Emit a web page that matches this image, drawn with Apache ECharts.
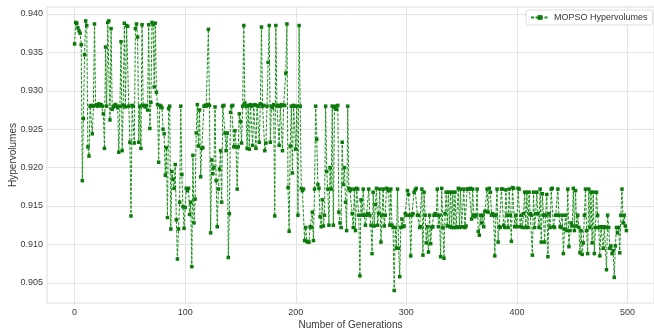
<!DOCTYPE html>
<html>
<head>
<meta charset="utf-8">
<script src="https://cdn.jsdelivr.net/npm/echarts@6/dist/echarts.min.js"></script>
<style>
  html, body { margin: 0; padding: 0; background: #ffffff; }
  #chart { width: 654px; height: 332px; }
</style>
</head>
<body>
<div id="chart"></div>
<script>
// MOPSO hypervolume per generation, generations 0..499 in blocks of 100
const hvGen000 = [
  0.9361, 0.9389, 0.9388, 0.9382, 0.9378, 0.9375, 0.9360, 0.9183, 0.9264, 0.9347,
  0.9391, 0.9385, 0.9227, 0.9215, 0.9280, 0.9281, 0.9244, 0.9280, 0.9387, 0.9281,
  0.9282, 0.9280, 0.9283, 0.9281, 0.9282, 0.9280, 0.9270, 0.9225, 0.9357, 0.9280,
  0.9389, 0.9391, 0.9262, 0.9381, 0.9276, 0.9279, 0.9281, 0.9282, 0.9280, 0.9278,
  0.9220, 0.9280, 0.9364, 0.9222, 0.9281, 0.9388, 0.9279, 0.9385, 0.9384, 0.9280,
  0.9233, 0.9137, 0.9281, 0.9280, 0.9232, 0.9381, 0.9387, 0.9370, 0.9233, 0.9280,
  0.9225, 0.9386, 0.9281, 0.9280, 0.9279, 0.9281, 0.9275, 0.9386, 0.9251, 0.9285,
  0.9389, 0.9386, 0.9305, 0.9388, 0.9298, 0.9282, 0.9207, 0.9281, 0.9280, 0.9278,
  0.9250, 0.9244, 0.9190, 0.9226, 0.9135, 0.9277, 0.9280, 0.9120, 0.9195, 0.9185,
  0.9173, 0.9204, 0.9132, 0.9081, 0.9120, 0.9155, 0.9280, 0.9191, 0.9149, 0.9121
];
const hvGen100 = [
  0.9148, 0.9173, 0.9170, 0.9173, 0.9139, 0.9155, 0.9071, 0.9216, 0.9128, 0.9159,
  0.9245, 0.9282, 0.9228, 0.9275, 0.9188, 0.9225, 0.9226, 0.9280, 0.9281, 0.9280,
  0.9282, 0.9380, 0.9281, 0.9115, 0.9210, 0.9192, 0.9200, 0.9279, 0.9183, 0.9123,
  0.9172, 0.9198, 0.9222, 0.9155, 0.9280, 0.9281, 0.9245, 0.9222, 0.9245, 0.9083,
  0.9140, 0.9272, 0.9280, 0.9281, 0.9227, 0.9248, 0.9227, 0.9172, 0.9227, 0.9270,
  0.9260, 0.9232, 0.9280, 0.9385, 0.9284, 0.9280, 0.9225, 0.9281, 0.9224, 0.9282,
  0.9280, 0.9229, 0.9281, 0.9282, 0.9225, 0.9281, 0.9280, 0.9233, 0.9283, 0.9383,
  0.9280, 0.9281, 0.9222, 0.9232, 0.9280, 0.9337, 0.9385, 0.9233, 0.9280, 0.9278,
  0.9282, 0.9137, 0.9385, 0.9280, 0.9281, 0.9229, 0.9280, 0.9282, 0.9222, 0.9281,
  0.9281, 0.9323, 0.9387, 0.9174, 0.9117, 0.9228, 0.9280, 0.9193, 0.9281, 0.9280
];
const hvGen200 = [
  0.9224, 0.9280, 0.9138, 0.9385, 0.9280, 0.9173, 0.9170, 0.9172, 0.9105, 0.9122,
  0.9104, 0.9103, 0.9103, 0.9123, 0.9122, 0.9142, 0.9105, 0.9172, 0.9280, 0.9237,
  0.9178, 0.9173, 0.9136, 0.9123, 0.9158, 0.9124, 0.9138, 0.9280, 0.9195, 0.9172,
  0.9125, 0.9200, 0.9172, 0.9280, 0.9125, 0.9278, 0.9280, 0.9276, 0.9281, 0.9142,
  0.9128, 0.9122, 0.9233, 0.9178, 0.9200, 0.9155, 0.9118, 0.9280, 0.9173, 0.9170,
  0.9172, 0.9140, 0.9122, 0.9172, 0.9118, 0.9173, 0.9172, 0.9138, 0.9059, 0.9158,
  0.9138, 0.9172, 0.9138, 0.9125, 0.9138, 0.9140, 0.9172, 0.9138, 0.9125, 0.9088,
  0.9168, 0.9124, 0.9152, 0.9173, 0.9125, 0.9140, 0.9172, 0.9103, 0.9138, 0.9172,
  0.9124, 0.9138, 0.9173, 0.9172, 0.9170, 0.9125, 0.9172, 0.9125, 0.9122, 0.9040,
  0.9122, 0.9095, 0.9172, 0.9095, 0.9058, 0.9122, 0.9133, 0.9123, 0.9124, 0.9140
];
const hvGen300 = [
  0.9138, 0.9170, 0.9165, 0.9138, 0.9085, 0.9138, 0.9140, 0.9168, 0.9171, 0.9173,
  0.9138, 0.9138, 0.9122, 0.9123, 0.9172, 0.9086, 0.9168, 0.9138, 0.9102, 0.9123,
  0.9090, 0.9138, 0.9101, 0.9122, 0.9123, 0.9138, 0.9140, 0.9138, 0.9172, 0.9123,
  0.9138, 0.9084, 0.9173, 0.9122, 0.9082, 0.9140, 0.9168, 0.9124, 0.9168, 0.9123,
  0.9168, 0.9122, 0.9168, 0.9122, 0.9168, 0.9122, 0.9123, 0.9173, 0.9122, 0.9172,
  0.9123, 0.9123, 0.9172, 0.9122, 0.9124, 0.9172, 0.9172, 0.9172, 0.9173, 0.9133,
  0.9172, 0.9138, 0.9136, 0.9138, 0.9172, 0.9117, 0.9112, 0.9138, 0.9128, 0.9138,
  0.9123, 0.9143, 0.9143, 0.9172, 0.9142, 0.9173, 0.9168, 0.9138, 0.9140, 0.9138,
  0.9085, 0.9138, 0.9172, 0.9103, 0.9123, 0.9122, 0.9172, 0.9172, 0.9125, 0.9122,
  0.9171, 0.9138, 0.9122, 0.9172, 0.9138, 0.9104, 0.9174, 0.9173, 0.9123, 0.9138
];
const hvGen400 = [
  0.9123, 0.9173, 0.9172, 0.9123, 0.9138, 0.9122, 0.9140, 0.9168, 0.9122, 0.9168,
  0.9122, 0.9168, 0.9140, 0.9138, 0.9086, 0.9168, 0.9122, 0.9140, 0.9168, 0.9140,
  0.9122, 0.9172, 0.9103, 0.9166, 0.9138, 0.9103, 0.9138, 0.9165, 0.9084, 0.9140,
  0.9122, 0.9172, 0.9173, 0.9123, 0.9122, 0.9138, 0.9138, 0.9172, 0.9138, 0.9123,
  0.9122, 0.9138, 0.9088, 0.9120, 0.9138, 0.9118, 0.9172, 0.9097, 0.9118, 0.9128,
  0.9124, 0.9173, 0.9118, 0.9170, 0.9124, 0.9138, 0.9122, 0.9089, 0.9118, 0.9087,
  0.9102, 0.9138, 0.9172, 0.9118, 0.9088, 0.9172, 0.9122, 0.9168, 0.9102, 0.9168,
  0.9088, 0.9122, 0.9168, 0.9138, 0.9122, 0.9085, 0.9123, 0.9122, 0.9095, 0.9123,
  0.9122, 0.9067, 0.9138, 0.9122, 0.9095, 0.9098, 0.9088, 0.9092, 0.9057, 0.9098,
  0.9122, 0.9115, 0.9122, 0.9089, 0.9138, 0.9172, 0.9128, 0.9138, 0.9124, 0.9118
];

const xTicks = [0, 100, 200, 300, 400, 500];
const yTicks = [0.905, 0.910, 0.915, 0.920, 0.925, 0.930, 0.935, 0.940];
const seriesName = 'MOPSO Hypervolumes';

const hypervolumes = [].concat(hvGen000, hvGen100, hvGen200, hvGen300, hvGen400);
const points = hypervolumes.map((v, gen) => [gen, v]);

const gridColor = '#e3e3e3';
const labelColor = '#3a3a3a';
const fontFamily = '"Liberation Sans", Arial, sans-serif';

const chart = echarts.init(document.getElementById('chart'), null, { renderer: 'canvas' });
chart.setOption({
  animation: false,
  backgroundColor: '#ffffff',
  grid: {
    left: 47, right: 0, top: 7, bottom: 29,
    outerBoundsMode: 'none',
    containLabel: false,
    show: true, borderColor: '#dcdcdc', borderWidth: 1, backgroundColor: '#ffffff'
  },
  legend: {
    data: [seriesName],
    left: 526, top: 10,
    padding: [3, 5, 3, 4],
    itemWidth: 18, itemHeight: 6, itemGap: 4,
    backgroundColor: '#ffffff',
    borderColor: '#dddddd', borderWidth: 1, borderRadius: 3,
    textStyle: { fontSize: 9, color: '#333333', fontFamily: fontFamily }
  },
  xAxis: {
    type: 'value',
    min: -24.95, max: 523.95,
    name: 'Number of Generations',
    nameLocation: 'middle', nameGap: 17,
    nameMoveOverlap: false,
    nameTextStyle: { fontSize: 10, color: labelColor, fontFamily: fontFamily },
    axisLine: { show: false },
    axisTick: { show: false, customValues: xTicks },
    axisLabel: { customValues: xTicks, margin: 5, fontSize: 9, color: labelColor, fontFamily: fontFamily },
    splitLine: { show: true, lineStyle: { color: gridColor, width: 1 } }
  },
  yAxis: {
    type: 'value',
    min: 0.90237, max: 0.94091,
    name: 'Hypervolumes',
    nameLocation: 'middle', nameGap: 29,
    nameMoveOverlap: false,
    nameTextStyle: { fontSize: 10, color: labelColor, fontFamily: fontFamily },
    axisLine: { show: false },
    axisTick: { show: false, customValues: yTicks },
    axisLabel: {
      customValues: yTicks, margin: 4, fontSize: 9, color: labelColor, fontFamily: fontFamily,
      formatter: v => v.toFixed(3)
    },
    splitLine: { show: true, lineStyle: { color: gridColor, width: 1 } }
  },
  series: [{
    name: seriesName,
    type: 'line',
    data: points,
    showSymbol: true,
    showAllSymbol: true,
    symbol: 'rect',
    symbolSize: 3.5,
    itemStyle: { color: '#0b7a0b' },
    lineStyle: { color: '#1a8f1a', width: 1, type: [3, 1.5] },
    emphasis: { disabled: true }
  }]
});
</script>
</body>
</html>
